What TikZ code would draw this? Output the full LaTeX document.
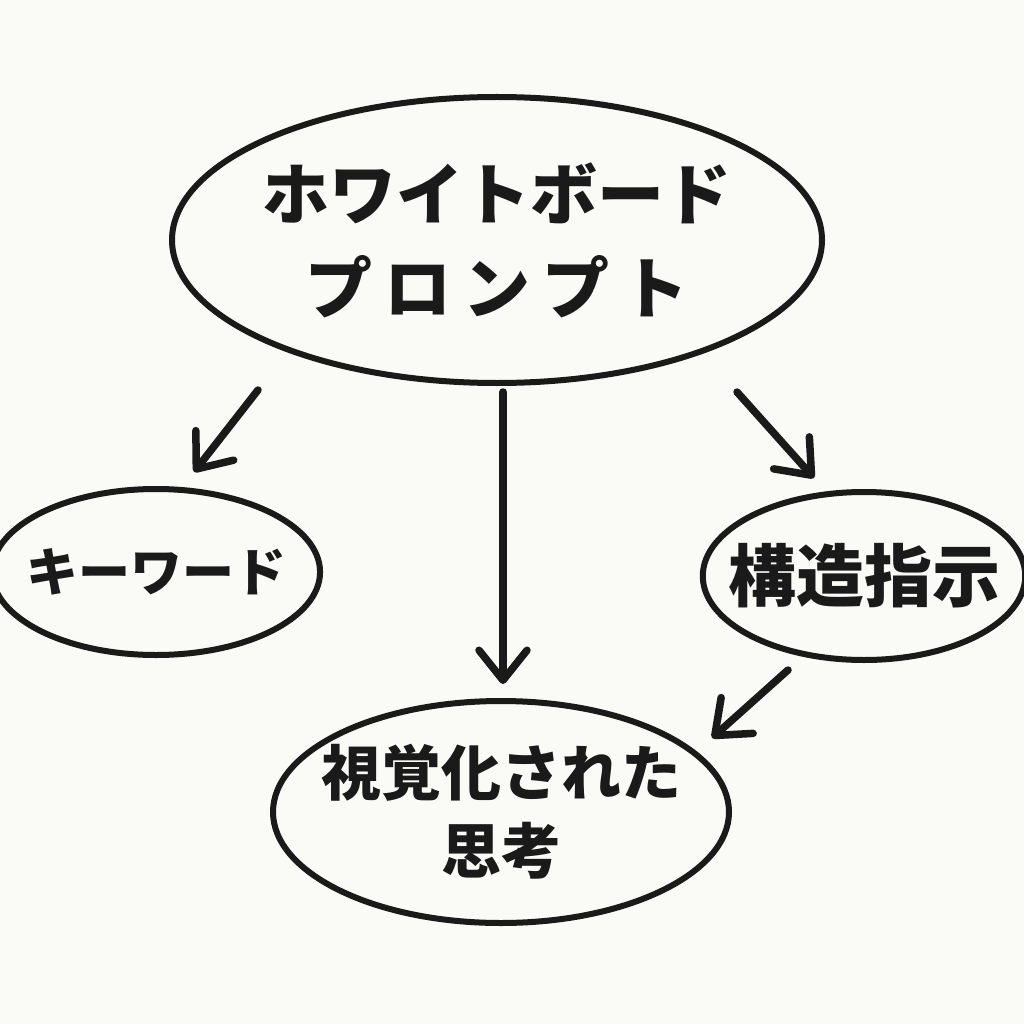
\documentclass[tikz,border=0pt]{standalone}
\usepackage{fontspec}
\newfontfamily\cjk{Noto Sans CJK JP}
\usetikzlibrary{arrows.meta,shapes.geometric}
\definecolor{bg}{HTML}{FAFAF7}
\definecolor{ink}{HTML}{1A1A1A}
\tikzset{
  bub/.style={draw=ink, line width=6pt, ellipse, inner sep=0pt, font=\cjk\bfseries, text=ink, align=center},
  arr/.style={draw=ink, line width=7.5pt, line cap=round, line join=round,
     -{Straight Barb[length=30pt,width=48pt,round]}}
}
\newcommand{\gp}{\hspace{12pt}}
\begin{document}
\begin{tikzpicture}[x=1pt,y=-1pt]
\fill[bg] (0,0) rectangle (1024,1024);
\useasboundingbox (0,0) rectangle (1024,1024);
\node[bub, inner xsep=-6pt, minimum width=650pt, minimum height=286pt, font=\cjk\bfseries\fontsize{67}{94}\selectfont] (top) at (497,240) {ホワイトボード\\プ\gp ロ\gp ン\gp プ\gp ト};
\node[bub, inner xsep=-14pt, minimum width=322pt, minimum height=166pt, font=\cjk\bfseries\fontsize{52}{60}\selectfont] (kw) at (156,572) {キーワード};
\node[bub, inner xsep=-22pt, minimum width=320pt, minimum height=168pt, font=\cjk\bfseries\fontsize{68}{70}\selectfont] (st) at (864,576) {構造指示};
\node[bub, inner xsep=-20pt, minimum width=456pt, minimum height=222pt, font=\cjk\bfseries\fontsize{60}{78}\selectfont] (vis) at (501,812) {視覚化された\\思考};
\coordinate (a1s) at (258,390);
\coordinate (a1e) at (194,472);
\coordinate (a2s) at (503,392);
\coordinate (a2e) at (503,684);
\coordinate (a3s) at (737,392);
\coordinate (a3e) at (814,478);
\coordinate (a4s) at (788,670);
\coordinate (a4e) at (712,738);
\draw[arr] (a1s) -- (a1e);
\draw[arr] (a2s) -- (a2e);
\draw[arr] (a3s) -- (a3e);
\draw[arr] (a4s) -- (a4e);
\end{tikzpicture}
\end{document}
